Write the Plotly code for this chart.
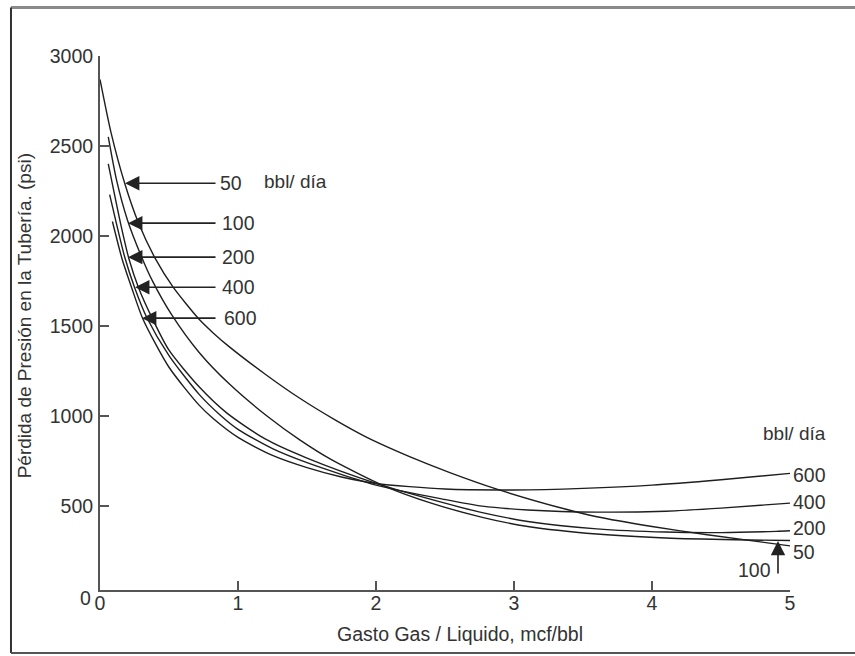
import plotly.graph_objects as go

# gas/liquid ratio (mcf/bbl) vs tubing pressure loss (psi), one curve per liquid rate (bbl/dia)
x_50 = [0.0, 0.08, 0.18, 0.28, 0.40, 0.53, 0.72, 0.82, 0.94, 1.20, 1.445, 1.70, 1.93, 2.31, 2.53, 2.87, 3.37, 3.60, 4.00, 4.40, 5.00]
y_50 = [2870, 2574, 2290, 2070, 1875, 1715, 1535, 1461, 1382, 1230, 1099, 979, 882, 752, 686, 594, 482, 439, 385, 339, 277]

x_100 = [0.06, 0.12, 0.20, 0.30, 0.38, 0.52, 0.72, 0.94, 1.21, 1.45, 1.68, 2.07, 2.40, 2.77, 3.10, 3.60, 4.10, 4.60, 5.00]
y_100 = [2550, 2310, 2086, 1886, 1750, 1561, 1351, 1175, 999, 865, 755, 607, 515, 436, 385, 343, 321, 311, 307]

x_200 = [0.06, 0.15, 0.21, 0.28, 0.38, 0.50, 0.72, 0.92, 1.20, 1.50, 2.00, 2.50, 2.77, 3.10, 3.60, 4.10, 4.50, 4.90, 5.00]
y_200 = [2400, 2066, 1872, 1711, 1540, 1365, 1160, 1015, 870, 765, 625, 515, 462, 413, 372, 354, 351, 358, 361]

x_400 = [0.07, 0.12, 0.18, 0.25, 0.34, 0.50, 0.72, 0.87, 1.00, 1.25, 1.50, 2.00, 2.50, 2.77, 3.10, 3.60, 4.10, 4.50, 5.00]
y_400 = [2230, 2066, 1880, 1715, 1545, 1335, 1118, 1005, 925, 818, 740, 615, 535, 498, 477, 465, 470, 487, 515]

x_600 = [0.09, 0.16, 0.23, 0.31, 0.50, 0.72, 0.82, 1.00, 1.25, 1.50, 1.75, 2.00, 2.50, 3.00, 3.50, 4.00, 4.50, 5.00]
y_600 = [2080, 1872, 1711, 1540, 1270, 1058, 985, 880, 780, 712, 660, 624, 593, 588, 597, 615, 645, 680]

rates = ["50", "100", "200", "400", "600"]
xs = [x_50, x_100, x_200, x_400, x_600]
ys = [y_50, y_100, y_200, y_400, y_600]

x_ticks = [0, 1, 2, 3, 4, 5]
y_ticks = [500, 1000, 1500, 2000, 2500, 3000]

FONT = "Liberation Sans, Arial, sans-serif"
TXT = "#333333"
FS = 19.5

fig = go.Figure()
for r, x, y in zip(rates, xs, ys):
    fig.add_trace(go.Scatter(x=x, y=y, mode="lines", name=r,
                             line=dict(color="#1e1e1e", width=1.4, shape="spline", smoothing=0.7),
                             showlegend=False, hoverinfo="skip"))


def label(x, y, text, size=FS, xanchor="left", xref="x"):
    return dict(x=x, y=y, xref=xref, yref="y", text=text, showarrow=False,
                xanchor=xanchor, yanchor="middle", font=dict(size=size, color=TXT, family=FONT))


def arrow(tip_x, tip_y, tail_x, tail_y):
    return dict(x=tip_x, y=tip_y, ax=tail_x, ay=tail_y, xref="x", yref="y", axref="x", ayref="y",
                text="", showarrow=True, arrowhead=2, arrowsize=1.8, arrowwidth=1.6,
                arrowcolor="#222222", standoff=0)


# left-hand arrows pointing at each curve
left_tips = [(0.181, 2293), (0.203, 2071), (0.203, 1882), (0.254, 1715), (0.304, 1543)]
left_lbl_x = [0.855, 0.87, 0.87, 0.87, 0.884]
annotations = []
for (tx, ty), lx, r in zip(left_tips, left_lbl_x, rates):
    annotations.append(arrow(tx, ty, 0.848, ty))
    annotations.append(label(lx, ty, r))
annotations.append(label(1.174, 2300, "bbl/ día", size=19))

# right-hand labels, just past the end of the x axis (paper x)
for t, yy in [("600", 671), ("400", 521), ("200", 376), ("50", 243)]:
    annotations.append(label(1.001, yy, t, xref="paper"))
annotations.append(label(1.007, 904, "bbl/ día", size=19, xanchor="center", xref="paper"))
annotations.append(label(4.74, 143, "100", xanchor="center"))
annotations.append(arrow(4.913, 305, 4.913, 115))

# axis titles and the lone y "0"
annotations.append(dict(x=-0.109, y=0.514, xref="paper", yref="paper",
                        text="Pérdida de Presión en la Tubería. (psi)", textangle=-90, showarrow=False,
                        xanchor="center", yanchor="middle", font=dict(size=19, color=TXT, family=FONT)))
annotations.append(dict(x=0.522, y=-0.0824, xref="paper", yref="paper", text="Gasto Gas / Liquido, mcf/bbl",
                        showarrow=False, xanchor="center", yanchor="middle",
                        font=dict(size=FS, color=TXT, family=FONT)))
annotations.append(dict(x=-0.0101, y=-0.015, xref="paper", yref="paper", text="0", showarrow=False,
                        xanchor="right", yanchor="middle", font=dict(size=FS, color=TXT, family=FONT)))

fig.update_layout(
    width=855, height=656,
    margin=dict(l=100, r=65, t=56, b=66),
    paper_bgcolor="white", plot_bgcolor="white",
    font=dict(family=FONT, size=FS, color=TXT),
    annotations=annotations,
    shapes=[
        dict(type="line", xref="paper", yref="paper", x0=-0.129, x1=1.1, y0=1.091, y1=1.091,
             line=dict(color="#8a8a8a", width=3)),
        dict(type="line", xref="paper", yref="paper", x0=-0.129, x1=-0.129, y0=1.091, y1=-0.1179,
             line=dict(color="#333333", width=2)),
        dict(type="line", xref="paper", yref="paper", x0=-0.129, x1=1.1, y0=-0.1179, y1=-0.1179,
             line=dict(color="#555555", width=2)),
    ],
)
fig.update_xaxes(range=[0, 5], tickvals=x_ticks, ticks="inside", ticklen=9, tickwidth=1.5,
                 tickcolor="#555555", showline=True, linecolor="#555555", linewidth=2,
                 showgrid=False, zeroline=False, ticklabelstandoff=-5)
fig.update_yaxes(range=[32, 3000], tickvals=y_ticks, ticks="inside", ticklen=9, tickwidth=1.5,
                 tickcolor="#555555", showline=True, linecolor="#555555", linewidth=2,
                 showgrid=False, zeroline=False, ticklabelstandoff=1)

# drop the page's default body margin so the figure sits at the window's corner
fig.write_html("out.html", config={"displayModeBar": False},
               post_script="document.body.style.margin='0px';")
